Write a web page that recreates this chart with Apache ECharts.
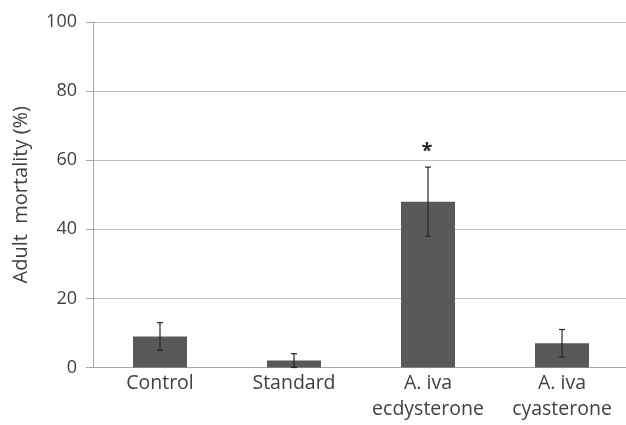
<!DOCTYPE html>
<html>
<head>
<meta charset="utf-8">
<script src="https://cdn.jsdelivr.net/npm/echarts@6/dist/echarts.min.js"></script>
<style>
html,body{margin:0;padding:0;background:#fff;}
#chart{width:626px;height:425px;}
</style>
</head>
<body>
<div id="chart"></div>
<script>
var categories = ['Control', 'Standard', 'A. iva\necdysterone', 'A. iva\ncyasterone'];
var mortality = [9, 2, 48, 7];
var errorLow = [5, 0, 38, 3];
var errorHigh = [13, 4, 58, 11];
var significance = ['', '', '*', ''];
var yTicks = [0, 20, 40, 60, 80, 100];

var chart = echarts.init(document.getElementById('chart'));
var textColor = '#404040';
var font = '"Open Sans", "Liberation Sans", sans-serif';

var errData = categories.map(function (c, i) {
  return [i, errorLow[i], errorHigh[i], significance[i]];
});

chart.setOption({
  animation: false,
  grid: { left: 93, right: -3, top: 22, bottom: 57.5, containLabel: false, outerBoundsMode: 'none' },
  xAxis: {
    type: 'category',
    data: categories,
    axisLine: { show: true, lineStyle: { color: '#a6a6a6', width: 1 } },
    axisTick: { show: false },
    axisLabel: { color: textColor, fontSize: 19.5, fontFamily: font, margin: 3, lineHeight: 26, interval: 0, hideOverlap: false }
  },
  yAxis: {
    type: 'value',
    min: yTicks[0],
    max: yTicks[yTicks.length - 1],
    interval: 20,
    name: 'Adult  mortality (%)',
    nameLocation: 'middle',
    nameGap: 62,
    nameTextStyle: { color: textColor, fontSize: 20, fontFamily: font },
    axisLine: { show: true, lineStyle: { color: '#a6a6a6', width: 1 } },
    axisTick: { show: true, inside: false, length: 7, lineStyle: { color: '#a6a6a6' } },
    axisLabel: { color: textColor, fontSize: 18, fontFamily: font, margin: 16 },
    splitLine: { show: true, lineStyle: { color: '#bdbdbd', width: 1 } }
  },
  series: [
    {
      type: 'bar',
      data: mortality,
      barWidth: 54,
      itemStyle: { color: '#595959' }
    },
    {
      type: 'custom',
      data: errData,
      z: 10,
      renderItem: function (params, api) {
        var x = api.value(0);
        var lo = api.coord([x, api.value(1)]);
        var hi = api.coord([x, api.value(2)]);
        var cap = 3;
        var children = [
          { type: 'line', shape: { x1: hi[0], y1: hi[1], x2: lo[0], y2: lo[1] }, style: { stroke: '#262626', lineWidth: 1.2 } },
          { type: 'line', shape: { x1: hi[0] - cap, y1: hi[1], x2: hi[0] + cap, y2: hi[1] }, style: { stroke: '#262626', lineWidth: 1.2 } },
          { type: 'line', shape: { x1: lo[0] - cap, y1: lo[1], x2: lo[0] + cap, y2: lo[1] }, style: { stroke: '#262626', lineWidth: 1.2 } }
        ];
        var sig = significance[params.dataIndex];
        if (sig) {
          children.push({
            type: 'text',
            x: hi[0] - 1,
            y: hi[1] - 16,
            style: { text: sig, fill: '#262626', fontSize: 20, fontWeight: 'bold', fontFamily: font, align: 'center', verticalAlign: 'middle' }
          });
        }
        return { type: 'group', children: children };
      }
    }
  ]
});
</script>
</body>
</html>
